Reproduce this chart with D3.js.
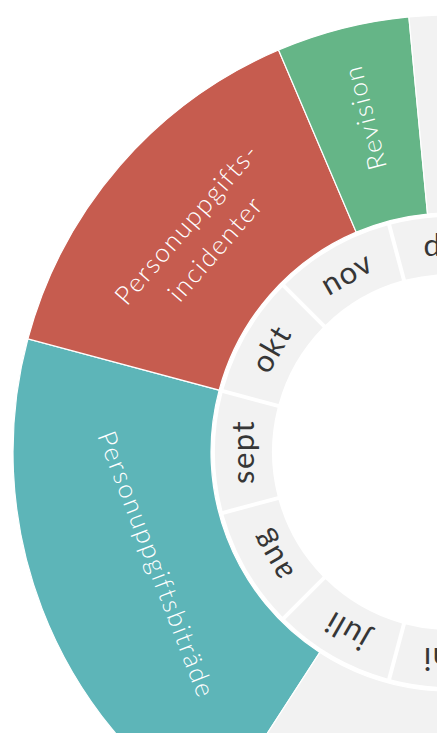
<!DOCTYPE html>
<html>
<head>
<meta charset="utf-8">
<script src="https://cdn.jsdelivr.net/npm/d3@7"></script>
<style>
  html, body { margin: 0; padding: 0; background: #fff; overflow: hidden; }
  svg { display: block; }
</style>
</head>
<body>
<svg id="chart"></svg>
<script>
// ─── Data ────────────────────────────────────────────────────────────
const months = ["jan", "feb", "mars", "april", "maj", "juni", "juli", "aug", "sept", "okt", "nov", "dec"];

// Outer ring periods, in month units counted from the start of jan
const periodNames = ["Personuppgiftsbiträde", "Personuppgifts-\nincidenter", "Revision", ""];
const periodStart = [6.6, 9.0, 10.73, 11.32];
const periodEnd = [9.0, 10.73, 11.32, 18.6];
const periodColors = ["#5db5b8", "#c65c4f", "#65b587", "#f2f2f2"];

// ─── Layout ──────────────────────────────────────────────────────────
const width = 437, height = 733;
const cx = 450, cy = 452;
const monthInner = 178, monthOuter = 235;
const ringInner = 239, ringOuter = 437;
const labelR = 345;

const svg = d3.select("#chart").attr("width", width).attr("height", height);
const g = svg.append("g").attr("transform", `translate(${cx},${cy})`);

// month 0 (jan) starts at 15 degrees, so dec sits centred at the top
const angle = d3.scaleLinear().domain([0, 12]).range([Math.PI / 12, Math.PI / 12 + 2 * Math.PI]);
const deg = (r) => (r * 180) / Math.PI;

// ─── Outer ring ──────────────────────────────────────────────────────
const outerArc = d3.arc().innerRadius(ringInner).outerRadius(ringOuter);

const periods = periodNames.map((name, i) => ({
  name,
  startAngle: angle(periodStart[i]),
  endAngle: angle(periodEnd[i]),
  color: periodColors[i],
}));

g.append("g")
  .selectAll("path")
  .data(periods)
  .join("path")
  .attr("d", outerArc)
  .attr("fill", (d) => d.color)
  .attr("stroke", "#fff")
  .attr("stroke-width", 1.2);

const labels = g.append("g")
  .selectAll("text")
  .data(periods.filter((d) => d.name))
  .join("text")
  .attr("text-anchor", "middle")
  .attr("font-family", "Lato, 'Open Sans', sans-serif")
  .attr("font-weight", 300)
  .attr("font-size", 26)
  .attr("letter-spacing", 1.8)
  .attr("fill", "#fff");

labels.each(function (d) {
  const lines = d.name.split("\n");
  const t = d3.select(this);
  const lh = 38;
  lines.forEach((line, i) => {
    t.append("tspan")
      .attr("x", 0)
      .attr("y", (i - (lines.length - 1) / 2) * lh)
      .attr("dy", "0.35em")
      .text(line);
  });
  const w = d3.max(t.selectAll("tspan").nodes(), (n) => n.getComputedTextLength());
  const mid = (d.startAngle + d.endAngle) / 2;
  const a = deg(mid) % 360;
  const span = deg(d.endAngle - d.startAngle);
  let r, rot;
  if (span < 25) {
    // narrow period: radial text reading outwards
    r = labelR;
    rot = a - 90;
  } else {
    // wide period: tangential text, flipped on the lower half
    r = Math.sqrt(labelR * labelR - (w / 2) * (w / 2));
    rot = a > 90 && a < 270 ? a - 180 : a;
  }
  const x = r * Math.sin(mid), y = -r * Math.cos(mid);
  t.attr("transform", `translate(${x},${y}) rotate(${rot})`);
});

// ─── Month ring ──────────────────────────────────────────────────────
const monthArc = d3.arc()
  .innerRadius(monthInner)
  .outerRadius(monthOuter)
  .padAngle(0.02)
  .padRadius(200);

const monthData = months.map((m, i) => ({ name: m, startAngle: angle(i), endAngle: angle(i + 1) }));

g.append("g")
  .selectAll("path")
  .data(monthData)
  .join("path")
  .attr("d", monthArc)
  .attr("fill", "#f2f2f2");

const monthMid = (monthInner + monthOuter) / 2;
g.append("g")
  .selectAll("text")
  .data(monthData)
  .join("text")
  .attr("text-anchor", "middle")
  .attr("dy", "0.35em")
  .attr("font-family", "Lato, 'Open Sans', sans-serif")
  .attr("font-size", 31)
  .attr("letter-spacing", 1.5)
  .attr("fill", "#363636")
  .attr("transform", (d) => {
    const mid = (d.startAngle + d.endAngle) / 2;
    return `translate(${monthMid * Math.sin(mid)},${-monthMid * Math.cos(mid)}) rotate(${deg(mid)})`;
  })
  .text((d) => d.name);
</script>
</body>
</html>
